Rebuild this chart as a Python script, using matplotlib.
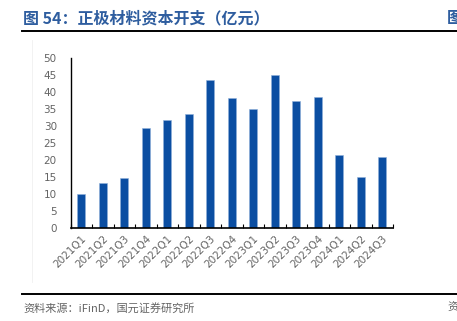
import matplotlib
matplotlib.use("Agg")
import matplotlib.pyplot as plt
from matplotlib.lines import Line2D
import numpy as np

plt.rcParams['font.family'] = ['Noto Sans CJK SC', 'DejaVu Sans']

# ---- data ----
quarters = ["2021Q1", "2021Q2", "2021Q3", "2021Q4",
            "2022Q1", "2022Q2", "2022Q3", "2022Q4",
            "2023Q1", "2023Q2", "2023Q3", "2023Q4",
            "2024Q1", "2024Q2", "2024Q3"]
capex = [9.9, 13.4, 14.7, 29.5, 31.7, 33.6, 43.7, 38.2,
         35.2, 45.2, 37.5, 38.7, 21.5, 14.9, 20.9]
y_ticks = [0, 5, 10, 15, 20, 25, 30, 35, 40, 45, 50]

title = "图 54：正极材料资本开支（亿元）"
source = "资料来源：iFinD，国元证券研究所"

bar_color = "#0B4EA2"
title_color = "#2E5D9F"
gray = "#646464"

fig = plt.figure(figsize=(4.57, 3.21), dpi=100)
ax = fig.add_axes([0.1547, 0.2897, 0.7053, 0.5287])

x = np.arange(len(quarters))
ax.bar(x, capex, width=0.37, color=bar_color, edgecolor="#8FB0DA", linewidth=0.4, zorder=2)

ax.set_xlim(-0.5, len(quarters) - 0.5)
ax.set_ylim(0, 50)
ax.set_yticks(y_ticks)
ax.set_yticklabels([str(v) for v in y_ticks], fontsize=7.5, color=gray, family="DejaVu Sans")
ax.tick_params(axis="y", length=0, pad=10)

# x ticks sit between the categories, pointing up
ax.set_xticks(np.arange(-0.5, len(quarters), 1.0))
ax.set_xticklabels([])
ax.tick_params(axis="x", direction="in", length=3, width=0.8, color="black")
ax.set_xticks(x, minor=True)
ax.set_xticklabels(quarters, minor=True, rotation=45, ha="right",
                   rotation_mode="anchor", fontsize=7.5, color=gray, family="DejaVu Sans")
ax.tick_params(axis="x", which="minor", length=0, pad=4)

for s in ["top", "right"]:
    ax.spines[s].set_visible(False)
ax.spines["left"].set_linewidth(1.0)
ax.spines["bottom"].set_linewidth(1.2)

# header, rules and footer
fig.text(23 / 457, 1 - 18 / 321, title, fontsize=11.5, fontweight="bold",
         color=title_color, va="center", ha="left")
fig.text(447 / 457, 1 - 18 / 321, "图", fontsize=11.5, fontweight="bold",
         color=title_color, va="center", ha="left")
fig.add_artist(Line2D([22 / 457, 1], [1 - 31 / 321] * 2, color="black", lw=1.4))
fig.add_artist(Line2D([22 / 457, 1], [1 - 294 / 321] * 2, color="black", lw=1.4))
fig.add_artist(Line2D([32 / 457] * 2, [1 - 282 / 321, 1 - 40 / 321], color="#F0F0F0", lw=0.6))
fig.text(23 / 457, 1 - 308 / 321, source, fontsize=8, color=gray, va="center", ha="left")
fig.text(447 / 457, 1 - 308 / 321, "资", fontsize=8, color=gray, va="center", ha="left")

fig.savefig("out.png", dpi=100)
